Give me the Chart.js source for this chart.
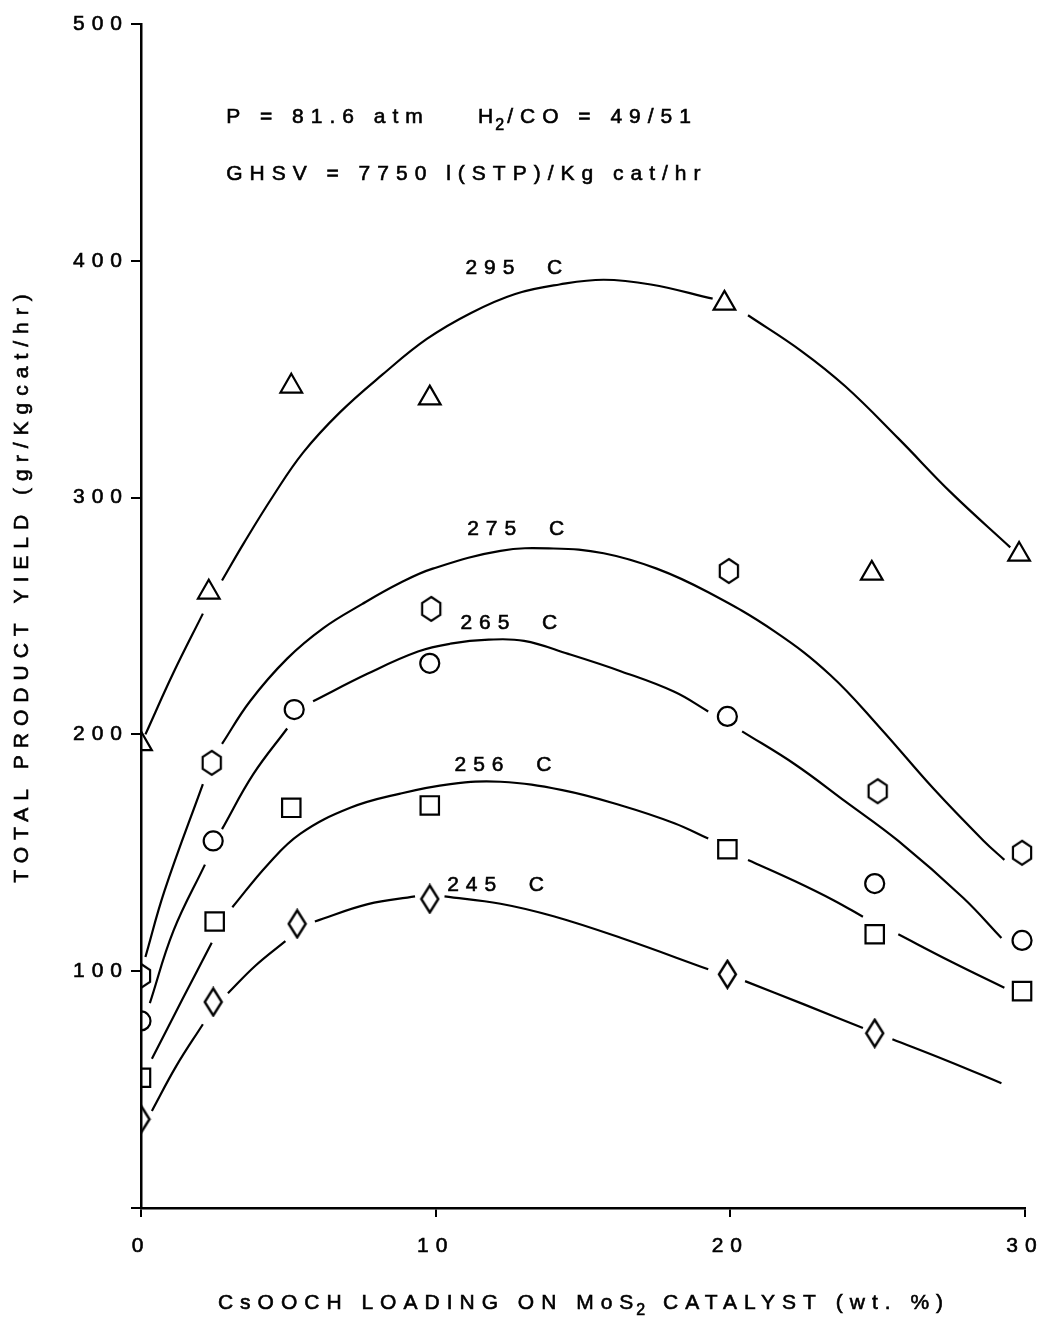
<!DOCTYPE html>
<html lang="en">
<head>
    <meta charset="UTF-8">
    <title>Total Product Yield vs CsOOCH Loading</title>
    <script src="https://cdn.jsdelivr.net/npm/chart.js"></script>
    <style>
        body { margin: 0; background: #fff; }
        #wrap { width: 1044px; height: 1320px; }
    </style>
</head>
<body>
<div id="wrap"><canvas id="yieldChart"></canvas></div>
<script>
    // measured points (wt. % CsOOCH, gr/Kgcat/hr)
    const tri295X = [0, 2.3, 5.1, 9.8, 19.8, 24.8, 29.8];
    const tri295Y = [196, 260, 347, 342, 382, 268, 276];
    const hex275X = [0, 2.4, 9.85, 19.95, 25.0, 29.9];
    const hex275Y = [98, 188, 253, 269, 176, 150];
    const circ265X = [0, 2.45, 5.2, 9.8, 19.9, 24.9, 29.9];
    const circ265Y = [79, 155, 210.5, 230, 207.6, 137, 113];
    const sq256X = [0, 2.5, 5.1, 9.8, 19.9, 24.9, 29.9];
    const sq256Y = [55, 121, 169, 170, 151.5, 115.6, 91.6];
    const dia245X = [0, 2.45, 5.3, 9.8, 19.9, 24.9];
    const dia245Y = [37.5, 87, 120, 130.5, 98.7, 73.8];

    // fitted curves (null = gap left around a marker)
    const fit295X = [0.15, 1.1, 2.1, 2.4, 2.75, 3.5, 4.5, 5.5, 6.75, 8.2, 9.7, 11.2, 12.7, 14.2, 15.7, 17.3, 19.4, 20.0, 20.6, 22.4, 23.9, 25.7, 27.5, 29.5];
    const fit295Y = [200, 226, 251, null, 265, 281, 301, 319, 336, 352, 367, 378, 386, 390, 392, 390, 384, null, 377, 362, 347, 325, 302, 279];
    const fit275X = [0.15, 0.8, 2.1, 2.4, 2.75, 3.7, 4.96, 6.2, 7.5, 8.8, 9.9, 12.2, 14.0, 15.7, 17.5, 19.25, 21.5, 23.4, 25.1, 26.9, 28.6, 29.3];
    const fit275Y = [106, 134, 179, null, 196, 214, 232, 245, 255, 264, 270, 277.5, 278.5, 276.5, 270, 260, 243.5, 225, 202.5, 177, 155, 147];
    const fit265X = [0.3, 1.1, 2.17, 2.45, 2.75, 3.8, 4.96, 5.2, 5.84, 7.7, 9.4, 10.5, 11.8, 13.0, 14.5, 16.3, 18.1, 19.25, 19.9, 20.4, 22.2, 23.9, 25.7, 27.9, 29.2];
    const fit265Y = [86.5, 117, 145, null, 160, 183, 202.5, null, 214, 225.7, 235, 238.3, 240, 239.5, 234, 226.6, 218, 209.7, null, 201.3, 187.3, 171.7, 155, 131, 114];
    const fit256X = [0.37, 1.4, 2.4, 2.75, 3.1, 4.3, 5.4, 7.1, 8.8, 10.5, 12.2, 14.3, 16.3, 18.1, 19.25, 19.9, 20.6, 22.2, 23.5, 24.5, 24.9, 25.7, 27.5, 29.3];
    const fit256Y = [63, 88, 112, null, 127, 145, 158, 169, 175, 179, 180, 176.5, 170, 162.5, 156, null, 147, 138, 130, 123, null, 115.6, 104, 93];
    const fit245X = [0.37, 1.2, 2.1, 2.45, 2.95, 3.9, 4.9, 5.3, 5.9, 7.7, 9.3, 9.8, 10.3, 12.2, 14, 16.3, 19.25, 19.9, 20.5, 22.5, 24.5, 24.9, 25.5, 27.4, 29.2];
    const fit245Y = [41, 60, 77.6, null, 90.7, 102.5, 112.7, null, 121, 128.3, 131.6, null, 131.6, 128.5, 123.2, 114, 100.8, null, 95.8, 86, 76, null, 71.3, 62, 52.7];

    const curveLabels = ['295  C', '275  C', '265  C', '256  C', '245  C'];

    const FONT = '"Liberation Sans", Arial, sans-serif';
    const SIZE = 21;
    const SPACING = '7px';

    const pts = (xs, ys) => xs.map((x, i) => ({ x: x, y: ys[i] }));

    function hexagonImage() {
        const c = document.createElement('canvas');
        c.width = 26; c.height = 28;
        const g = c.getContext('2d');
        g.lineWidth = 2.2;
        g.strokeStyle = '#000';
        g.beginPath();
        for (let k = 0; k < 6; k++) {
            const a = -Math.PI / 2 + k * Math.PI / 3;
            const px = 13 + 10.5 * Math.cos(a), py = 14 + 12 * Math.sin(a);
            k === 0 ? g.moveTo(px, py) : g.lineTo(px, py);
        }
        g.closePath();
        g.stroke();
        return c;
    }

    function diamondImage() {
        const c = document.createElement('canvas');
        c.width = 21; c.height = 31;
        const g = c.getContext('2d');
        g.lineWidth = 2.4;
        g.strokeStyle = '#000';
        g.beginPath();
        g.moveTo(10.5, 2); g.lineTo(19, 15.5); g.lineTo(10.5, 29); g.lineTo(2, 15.5);
        g.closePath();
        g.stroke();
        return c;
    }

    const markerBase = {
        showLine: false,
        borderColor: '#000',
        backgroundColor: 'rgba(0,0,0,0)',
        pointBorderWidth: 2.2,
        clip: { left: 0, top: false, right: false, bottom: false }
    };
    const curveBase = {
        showLine: true,
        borderColor: '#000',
        borderWidth: 2.2,
        pointRadius: 0,
        tension: 0.4,
        spanGaps: false
    };

    const spacingPlugin = {
        id: 'spacing',
        beforeUpdate(chart) { chart.ctx.letterSpacing = SPACING; },
        beforeDraw(chart) { chart.ctx.letterSpacing = SPACING; }
    };

    // fill plus a hairline stroke, to get the heavier look of the original type
    function text(ctx, s, px, py) {
        ctx.fillText(s, px, py);
        ctx.strokeText(s, px, py);
    }

    const notesPlugin = {
        id: 'notes',
        afterDraw(chart) {
            const { ctx, scales: { x, y } } = chart;
            const font = SIZE + 'px ' + FONT;
            ctx.save();
            ctx.letterSpacing = SPACING;
            ctx.fillStyle = '#000';
            ctx.strokeStyle = '#000';
            ctx.lineWidth = 0.6;
            ctx.textBaseline = 'middle';
            ctx.font = font;

            // curve labels
            const lx = [12.67, 12.73, 12.5, 12.3, 12.05];
            const ly = [397, 286.5, 246.8, 187, 136.3];
            ctx.textAlign = 'center';
            curveLabels.forEach((t, i) => text(ctx, t, x.getPixelForValue(lx[i]) + 3, y.getPixelForValue(ly[i])));

            // operating conditions
            ctx.textAlign = 'left';
            let px = x.getPixelForValue(2.89);
            let py = y.getPixelForValue(460.6);
            text(ctx, 'P = 81.6 atm', px, py);
            px = x.getPixelForValue(11.44);
            text(ctx, 'H', px, py);
            px += ctx.measureText('H').width - 5;
            ctx.font = '16px ' + FONT;
            text(ctx, '2', px, py + 8);
            px += ctx.measureText('2').width - 4;
            ctx.font = font;
            text(ctx, '/CO = 49/51', px, py);
            text(ctx, 'GHSV = 7750 l(STP)/Kg cat/hr', x.getPixelForValue(2.89), y.getPixelForValue(436.7));

            // x axis title
            ctx.textAlign = 'center';
            const cx = (chart.chartArea.left + chart.chartArea.right) / 2 + 4;
            const ty = 1303;
            const a = 'CsOOCH LOADING ON MoS', b = ' CATALYST (wt. %)';
            const wa = ctx.measureText(a).width, wb = ctx.measureText(b).width;
            ctx.font = '16px ' + FONT;
            const w2 = ctx.measureText('2').width;
            const start = cx - (wa + w2 + wb) / 2;
            ctx.textAlign = 'left';
            text(ctx, '2', start + wa - 4, ty + 8);
            ctx.font = font;
            text(ctx, a, start, ty);
            text(ctx, b, start + wa + w2 - 6, ty);

            // y axis title
            ctx.translate(22, 585);
            ctx.rotate(-Math.PI / 2);
            ctx.textAlign = 'center';
            text(ctx, 'TOTAL PRODUCT YIELD (gr/Kgcat/hr)', 0, 0);
            ctx.restore();
        }
    };

    const ctx = document.getElementById('yieldChart').getContext('2d');
    const yieldChart = new Chart(ctx, {
        type: 'scatter',
        data: {
            datasets: [
                { ...curveBase, label: '295 C fit', data: pts(fit295X, fit295Y) },
                { ...curveBase, label: '275 C fit', data: pts(fit275X, fit275Y) },
                { ...curveBase, label: '265 C fit', data: pts(fit265X, fit265Y) },
                { ...curveBase, label: '256 C fit', data: pts(fit256X, fit256Y) },
                { ...curveBase, label: '245 C fit', data: pts(fit245X, fit245Y) },
                { ...markerBase, label: '295 C', data: pts(tri295X, tri295Y), pointStyle: 'triangle', pointRadius: 12.5 },
                { ...markerBase, label: '275 C', data: pts(hex275X, hex275Y), pointStyle: hexagonImage() },
                { ...markerBase, label: '265 C', data: pts(circ265X, circ265Y), pointStyle: 'circle', pointRadius: 9.5 },
                { ...markerBase, label: '256 C', data: pts(sq256X, sq256Y), pointStyle: 'rect', pointRadius: 13 },
                { ...markerBase, label: '245 C', data: pts(dia245X, dia245Y), pointStyle: diamondImage() }
            ]
        },
        options: {
            responsive: true,
            maintainAspectRatio: false,
            animation: false,
            layout: { padding: { top: 24, right: 19, left: 0, bottom: 0 } },
            plugins: {
                legend: { display: false },
                tooltip: { enabled: false }
            },
            scales: {
                x: {
                    type: 'linear',
                    min: 0,
                    max: 30,
                    afterFit: s => { s.height = 112; s.paddingLeft = 0; s.paddingRight = 0; },
                    ticks: {
                        stepSize: 10,
                        color: '#000',
                        padding: 17,
                        textStrokeColor: '#000',
                        textStrokeWidth: 0.6,
                        font: { family: FONT, size: SIZE }
                    },
                    grid: { drawOnChartArea: false, drawTicks: true, tickLength: 9, color: '#000', lineWidth: 2 },
                    border: { color: '#000', width: 2.5 }
                },
                y: {
                    type: 'linear',
                    min: 0,
                    max: 500,
                    afterFit: s => { s.width = 141; s.paddingTop = 0; s.paddingBottom = 0; },
                    ticks: {
                        stepSize: 100,
                        color: '#000',
                        padding: 2,
                        textStrokeColor: '#000',
                        textStrokeWidth: 0.6,
                        font: { family: FONT, size: SIZE },
                        callback: v => (v === 0 ? '' : v)
                    },
                    grid: { drawOnChartArea: false, drawTicks: true, tickLength: 10, color: '#000', lineWidth: 2 },
                    border: { color: '#000', width: 2.5 }
                }
            }
        },
        plugins: [spacingPlugin, notesPlugin]
    });
</script>
</body>
</html>
